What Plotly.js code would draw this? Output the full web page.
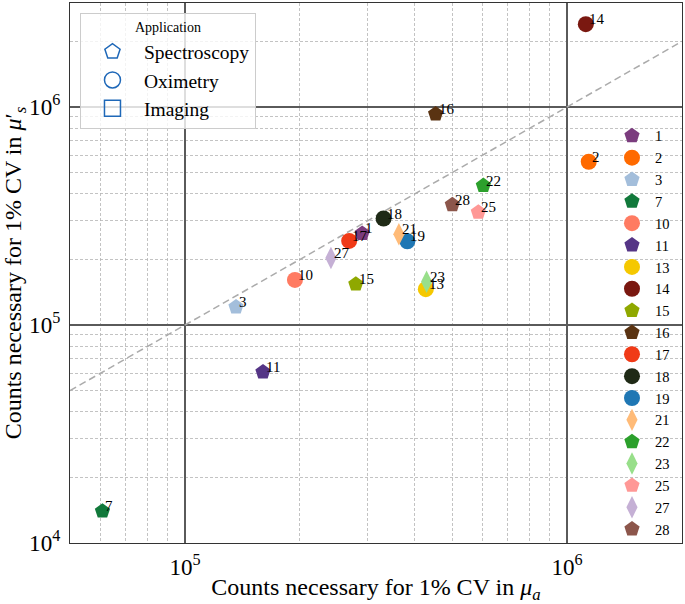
<!DOCTYPE html>
<html><head><meta charset="utf-8">
<script src="https://cdn.plot.ly/plotly-3.0.1.min.js"></script>
<style>html,body{margin:0;padding:0;background:#fff}#chart{width:685px;height:604px}</style>
</head><body><div id="chart"></div>
<script>
// ---------- DATA ----------
const studyIds = ['1','2','3','7','10','11','13','14','15','16','17','18','19','21','22','23','25','27','28'];
const countsMuA = [2.91e5,1.14e6,1.36e5,6.08e4,1.94e5,1.60e5,4.27e5,1.12e6,2.80e5,4.53e5,2.69e5,3.31e5,3.82e5,3.63e5,6.04e5,4.29e5,5.86e5,2.41e5,5.01e5];
const countsMuS = [2.63e5,5.61e5,1.21e5,1.40e4,1.61e5,6.09e4,1.46e5,2.40e6,1.54e5,9.29e5,2.43e5,3.08e5,2.42e5,2.61e5,4.36e5,1.58e5,3.29e5,2.03e5,3.56e5];
const applications = ['Spectroscopy','Oximetry','Spectroscopy','Spectroscopy','Oximetry','Spectroscopy','Oximetry','Oximetry','Spectroscopy','Spectroscopy','Oximetry','Oximetry','Oximetry','Imaging','Spectroscopy','Imaging','Spectroscopy','Imaging','Spectroscopy'];
const applicationNames = ['Spectroscopy','Oximetry','Imaging'];
const identityLine = [5e4, 2e6];

// ---------- STYLE ----------
const studyColors = ['#7b3c7e','#ff6a00','#a3bedb','#12793b','#ff7b62','#553586','#f5c800','#7a1810','#8fa800','#5a3312','#f03a17','#1f2a16','#1f77b4','#ffbb78','#2ca02c','#98df8a','#ff9896','#c5b0d5','#8c564b'];
const dataSymbol = {Spectroscopy:'pentagon', Oximetry:'circle', Imaging:'diamond-tall'};
const legendSymbol = {Spectroscopy:'pentagon-open', Oximetry:'circle-open', Imaging:'square-open'};
const FONT = 'Liberation Serif, Times New Roman, serif';
const appBlue = '#1f68b8';

const traces = [];
traces.push({
  x: identityLine, y: identityLine, mode: 'lines', showlegend: false, hoverinfo: 'skip',
  line: {color: '#ababab', dash: '7px,4px', width: 1.5}
});
applicationNames.forEach(a => traces.push({
  x: [null], y: [null], mode: 'markers', name: a, legend: 'legend',
  marker: {symbol: legendSymbol[a], size: 16, color: appBlue, line: {color: appBlue, width: 1.5}}
}));
studyIds.forEach((id, i) => traces.push({
  x: [countsMuA[i]], y: [countsMuS[i]], mode: 'markers', name: id, legend: 'legend2',
  marker: {symbol: dataSymbol[applications[i]], size: 16, color: studyColors[i], line: {width: 0}}
}));

const labelAnnotations = studyIds.map((id, i) => ({
  x: Math.log10(countsMuA[i]), y: Math.log10(countsMuS[i]), xref: 'x', yref: 'y',
  text: id, showarrow: false, xanchor: 'left', yanchor: 'bottom', xshift: 1, yshift: -5,
  font: {family: FONT, size: 15, color: '#000'}
}));

const axisCommon = {
  type: 'log', dtick: 1, exponentformat: 'power', showexponent: 'all',
  showgrid: true, gridcolor: '#5a5a5a', gridwidth: 1.3,
  minor: {dtick: 'D1', showgrid: true, gridcolor: '#b4b4b4', griddash: '3px,2px', gridwidth: 0.8},
  showline: true, mirror: true, linecolor: '#333', linewidth: 1,
  ticks: '', tickfont: {family: FONT, size: 18.5, color: '#000'}, zeroline: false
};

const layout = {
  width: 685, height: 604,
  margin: {l: 70, r: 3, t: 3, b: 61},
  paper_bgcolor: '#fff', plot_bgcolor: '#fff',
  font: {family: FONT, color: '#000'},
  showlegend: true,
  annotations: labelAnnotations,
  xaxis: Object.assign({}, axisCommon, {
    range: [Math.log10(5e4), Math.log10(2e6)],
    ticklabelstandoff: 4,
    title: {text: 'Counts necessary for 1% CV in <i>μ</i><sub><i>a</i></sub>', font: {family: FONT, size: 24, color: '#000'}, standoff: 6}
  }),
  yaxis: Object.assign({}, axisCommon, {
    range: [4, Math.log10(3e6)],
    ticklabelstandoff: 5,
    title: {text: 'Counts necessary for 1% CV in <i>μ</i>′<sub><i>s</i></sub>', font: {family: FONT, size: 24, color: '#000'}, standoff: 0}
  }),
  legend: {
    x: 0.0163, y: 0.981, xanchor: 'left', yanchor: 'top',
    bgcolor: 'rgba(255,255,255,0.8)', bordercolor: '#cccccc', borderwidth: 1,
    font: {family: FONT, size: 19.5, color: '#000'}, itemwidth: 53,
    title: {text: 'Application', side: 'top center', font: {family: FONT, size: 14, color: '#000'}}
  },
  legend2: {
    x: 0.8807, y: 0.7836, xanchor: 'left', yanchor: 'top',
    bgcolor: 'rgba(0,0,0,0)', borderwidth: 0,
    font: {family: FONT, size: 14.5, color: '#000'}, itemwidth: 36, tracegroupgap: 0
  }
};

Plotly.newPlot('chart', traces, layout, {staticPlot: true, displayModeBar: false});
</script>
</body></html>
